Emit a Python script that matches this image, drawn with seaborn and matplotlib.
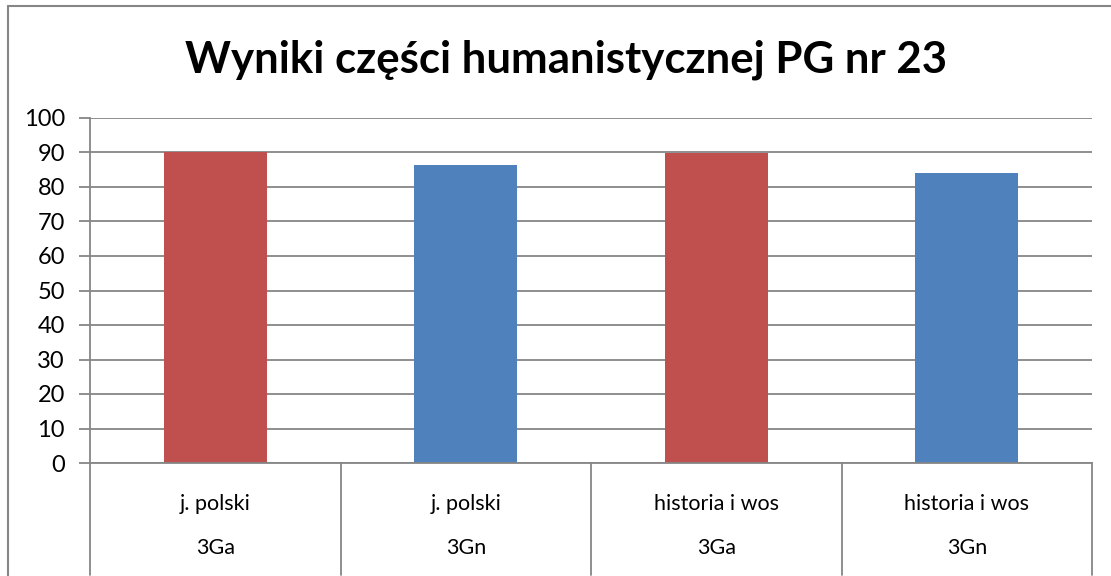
import pandas as pd
import matplotlib.pyplot as plt
import seaborn as sns

subjects = ['j. polski', 'j. polski', 'historia i wos', 'historia i wos']
groups = ['3Ga', '3Gn', '3Ga', '3Gn']
scores = [90.1, 86.4, 89.8, 84.1]
title = 'Wyniki części humanistycznej PG nr 23'

colors = {'3Ga': '#C0504D', '3Gn': '#4F81BD'}
grid_c = '#868686'

sns.set_theme(style='white')
plt.rcParams['font.family'] = ['Lato', 'DejaVu Sans']
plt.rcParams['text.color'] = 'black'
plt.rcParams['ytick.labelcolor'] = 'black'

df = pd.DataFrame({'subject': subjects, 'group': groups, 'score': scores})
df['key'] = df['subject'] + '|' + df['group']

fig = plt.figure(figsize=(11.11, 5.76), dpi=100)
ax = fig.add_axes([90 / 1111, 1 - 463 / 576, (1092 - 90) / 1111, (463 - 118) / 576])

sns.barplot(data=df, x='key', y='score', hue='group', order=list(df['key']),
            palette=colors, dodge=False, width=0.41, saturation=1,
            linewidth=0, legend=False, ax=ax)

ax.set_ylim(0, 100)
ax.set_yticks(range(0, 101, 10))
ax.set_xlim(-0.5, len(df) - 0.5)
ax.yaxis.grid(True, color=grid_c, lw=1.3)
ax.set_axisbelow(True)
ax.set_xlabel('')
ax.set_ylabel('')
ax.set_xticks([])
for s in ['top', 'right']:
    ax.spines[s].set_visible(False)
for s in ['left', 'bottom']:
    ax.spines[s].set_color(grid_c)
    ax.spines[s].set_linewidth(1.3)
ax.tick_params(axis='y', length=8, width=1.3, color=grid_c, labelsize=17,
               labelcolor='black', pad=10, left=True)

# two-row category labels with dividers
tr = ax.get_xaxis_transform()
for i, (subj, grp) in enumerate(zip(subjects, groups)):
    ax.text(i, -0.12, subj, transform=tr, ha='center', va='center', fontsize=15.5)
    ax.text(i, -0.245, grp, transform=tr, ha='center', va='center', fontsize=15.5)
for i in range(len(df) + 1):
    ax.plot([i - 0.5, i - 0.5], [0, -0.325], transform=tr, color=grid_c,
            lw=1.3, clip_on=False)

fig.text(566 / 1111, 1 - 60 / 576, title, ha='center', va='center',
         fontsize=31.5, fontweight='bold')

# chart frame (top and left edges visible)
fig.add_artist(plt.Line2D([8 / 1111, 8 / 1111], [0, 1 - 6 / 576],
                          transform=fig.transFigure, color=grid_c, lw=1.5))
fig.add_artist(plt.Line2D([8 / 1111, 1], [1 - 6 / 576, 1 - 6 / 576],
                          transform=fig.transFigure, color=grid_c, lw=1.5))

fig.savefig('out.png', dpi=100)
